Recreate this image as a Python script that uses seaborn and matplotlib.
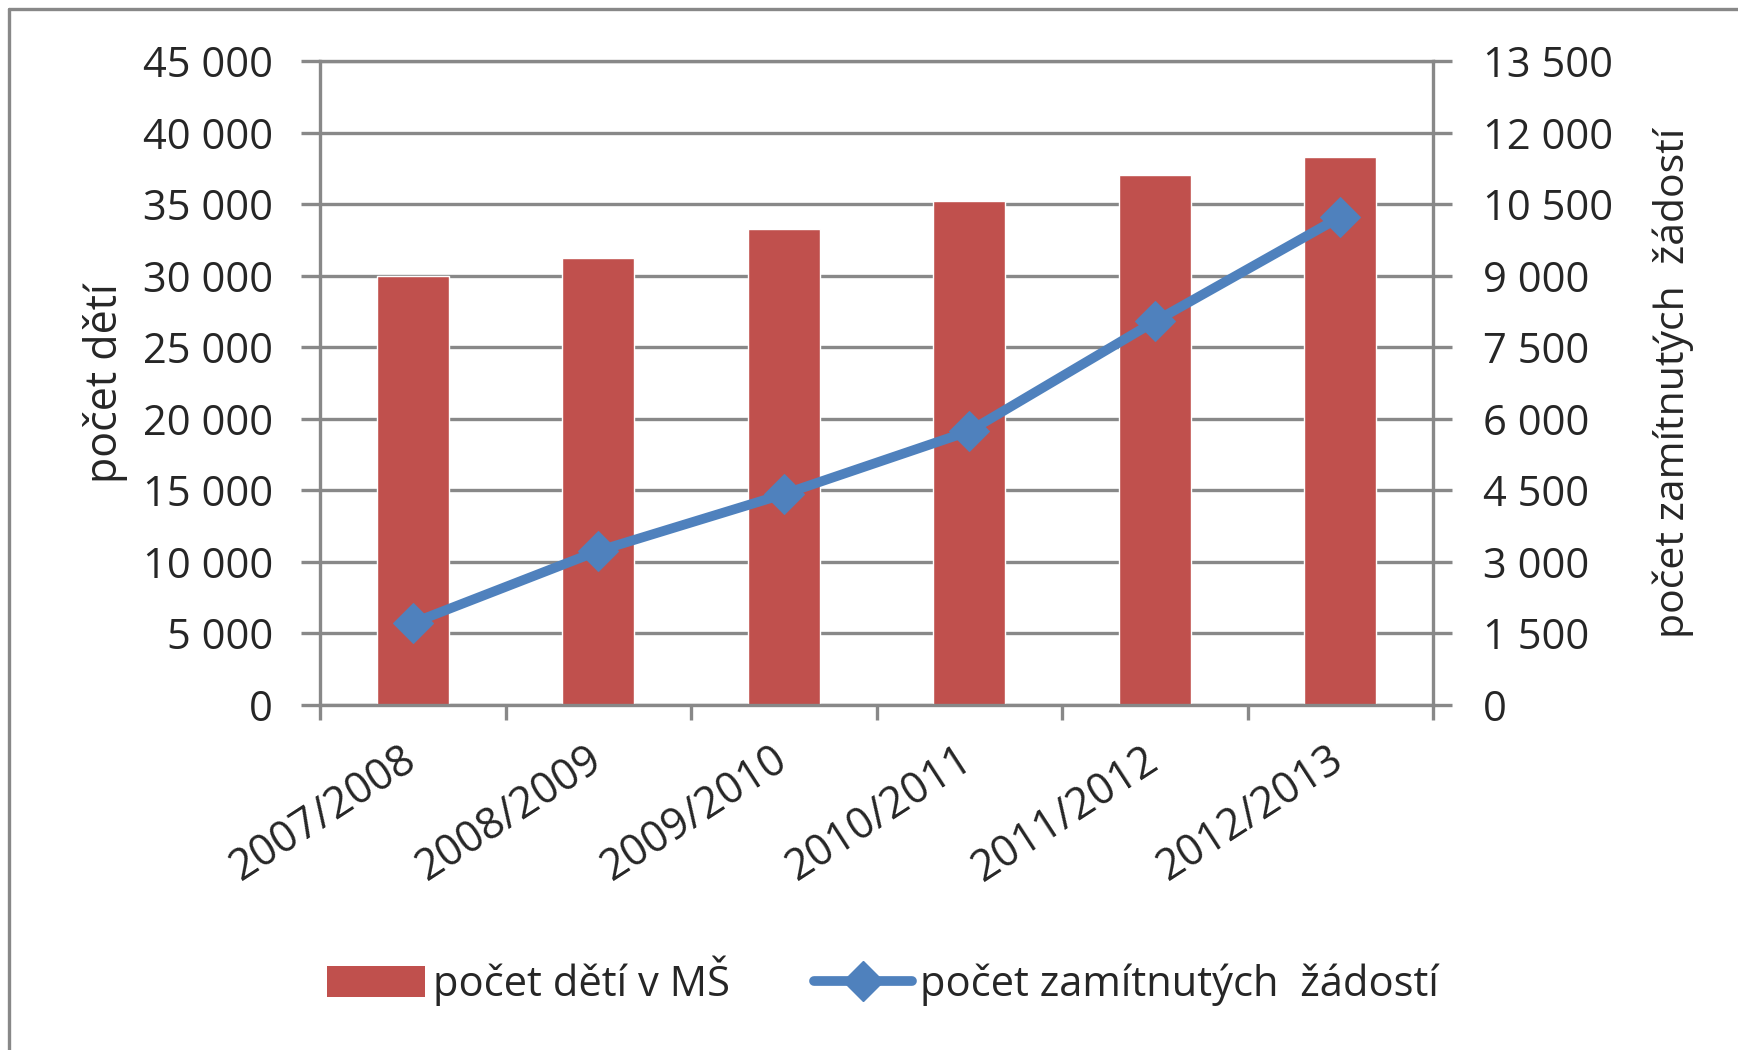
import matplotlib
matplotlib.use("Agg")
import matplotlib.pyplot as plt
from matplotlib.ticker import FuncFormatter, FixedLocator
from matplotlib.lines import Line2D
from matplotlib.patches import Patch
import seaborn as sns
import pandas as pd
import numpy as np

# ---- data ----
years = ["2007/2008", "2008/2009", "2009/2010", "2010/2011", "2011/2012", "2012/2013"]
children = [30000, 31250, 33250, 35250, 37050, 38300]
rejected = [1720, 3230, 4420, 5740, 8040, 10230]
left_ticks = [0, 5000, 10000, 15000, 20000, 25000, 30000, 35000, 40000, 45000]
right_ticks = [0, 1500, 3000, 4500, 6000, 7500, 9000, 10500, 12000, 13500]

bar_label = "počet dětí v MŠ"
line_label = "počet zamítnutých  žádostí"
left_ylabel = "počet dětí"
right_ylabel = "počet zamítnutých  žádostí"

BAR_COLOR = "#C0504D"
LINE_COLOR = "#4F81BD"
GRID = "#888888"

sns.set_style("white")
plt.rcParams["font.family"] = ["Open Sans", "DejaVu Sans"]

df = pd.DataFrame({"year": years, "children": children, "rejected": rejected})
df["pos"] = np.arange(len(df))

fig = plt.figure(figsize=(17.38, 10.5), dpi=100)
ax = fig.add_axes([320/1738, 1-705/1050, (1433-320)/1738, (705-61)/1050])

sns.barplot(data=df, x="year", y="children", color=BAR_COLOR, width=0.39,
            saturation=1, ax=ax, zorder=2)
ax.set_xlim(-0.5, len(years) - 0.5)
ax.set_ylim(0, 45000)
ax.yaxis.set_major_locator(FixedLocator(left_ticks))
fmt = FuncFormatter(lambda v, p: f"{int(v):,}".replace(",", " "))
ax.yaxis.set_major_formatter(fmt)
ax.set_axisbelow(True)
ax.grid(axis="y", color=GRID, linewidth=2.4)
ax.grid(axis="x", visible=False)
for s in ax.spines.values():
    s.set_color(GRID)
    s.set_linewidth(2.4)
ax.tick_params(axis="y", which="major", direction="out", length=14, width=2.4,
               color=GRID, pad=20, labelsize=30, left=True)
ax.set_xticks(range(len(years)))
ax.set_xticklabels(years, rotation=33, ha="right", va="center", rotation_mode="anchor")
ax.xaxis.set_minor_locator(FixedLocator(np.arange(-0.5, len(years), 1.0)))
ax.tick_params(axis="x", which="major", length=0, pad=37, labelsize=31)
ax.tick_params(axis="x", which="minor", direction="out", length=11, width=2.4,
               color=GRID, bottom=True)
ax.set_xlabel("")
ax.set_ylabel(left_ylabel, fontsize=31)
ax.yaxis.set_label_coords((128-320)/1113, 0.5)

ax2 = ax.twinx()
sns.lineplot(data=df, x="pos", y="rejected", ax=ax2, color=LINE_COLOR,
             linewidth=7, marker="D", markersize=20, markeredgecolor=LINE_COLOR,
             zorder=3)
ax2.set_ylim(0, 13500)
ax2.yaxis.set_major_locator(FixedLocator(right_ticks))
ax2.yaxis.set_major_formatter(fmt)
ax2.tick_params(axis="y", direction="out", length=14, width=2.4, color=GRID,
                pad=22, labelsize=30, right=True)
ax2.grid(False)
for s in ax2.spines.values():
    s.set_visible(False)
ax2.set_ylabel(right_ylabel, fontsize=29.5)
ax2.yaxis.set_label_coords((1652-320)/1113, 0.5)
ax2.set_xlabel("")

handles = [Patch(facecolor=BAR_COLOR, edgecolor="none", label=bar_label),
           Line2D([0], [0], color=LINE_COLOR, linewidth=7, marker="D",
                  markersize=20, label=line_label)]
fig.legend(handles=handles, loc="center", bbox_to_anchor=(0.508, 0.066), ncol=2,
           frameon=False, fontsize=30, handlelength=2.35, handleheight=0.8,
           handletextpad=0.2, columnspacing=2.0)

# outer frame (left and top only visible)
fig.add_artist(Line2D([9/1738, 9/1738], [0, 1-9/1050], color=GRID, linewidth=2.4,
                      transform=fig.transFigure))
fig.add_artist(Line2D([9/1738, 1], [1-9/1050, 1-9/1050], color=GRID, linewidth=2.4,
                      transform=fig.transFigure))

fig.savefig("out.png", dpi=100)
